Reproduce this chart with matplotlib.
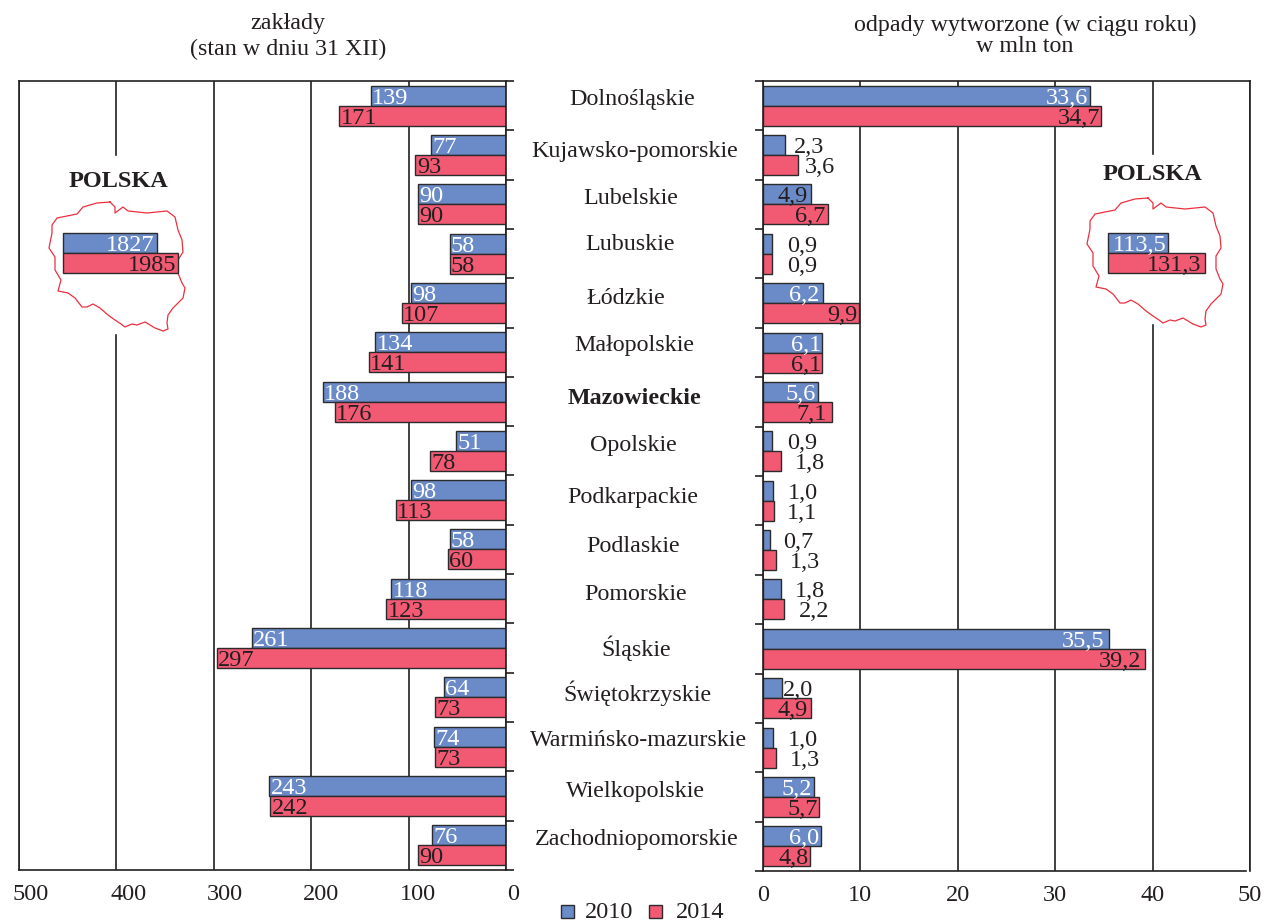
#!/usr/bin/env python3
"""Zakłady i odpady wytworzone wg województw, 2010 i 2014."""
import matplotlib

matplotlib.use("Agg")
import matplotlib.pyplot as plt
from matplotlib.lines import Line2D
from matplotlib.patches import Rectangle

plt.rcParams["font.family"] = ["Liberation Serif", "DejaVu Serif"]

W, H = 1266, 922

regions = [
    "Dolnośląskie", "Kujawsko-pomorskie", "Lubelskie", "Lubuskie", "Łódzkie", "Małopolskie",
    "Mazowieckie", "Opolskie", "Podkarpackie", "Podlaskie", "Pomorskie", "Śląskie",
    "Świętokrzyskie", "Warmińsko-mazurskie", "Wielkopolskie", "Zachodniopomorskie",
]
plants_2010 = [139, 77, 90, 58, 98, 134, 188, 51, 98, 58, 118, 261, 64, 74, 243, 76]
plants_2014 = [171, 93, 90, 58, 107, 141, 176, 78, 113, 60, 123, 297, 73, 73, 242, 90]
waste_2010 = [33.6, 2.3, 4.9, 0.9, 6.2, 6.1, 5.6, 0.9, 1.0, 0.7, 1.8, 35.5, 2.0, 1.0, 5.2, 6.0]
waste_2014 = [34.7, 3.6, 6.7, 0.9, 9.9, 6.1, 7.1, 1.8, 1.1, 1.3, 2.2, 39.2, 4.9, 1.3, 5.7, 4.8]
poland_plants = [1827, 1985]
poland_waste = [113.5, 131.3]
plants_ticks = [500, 400, 300, 200, 100, 0]
waste_ticks = [0, 10, 20, 30, 40, 50]

# hand placement from the printed figure, all in pixels
region_x = [632, 635, 631, 630, 626, 634, 635, 633, 633, 633, 636, 636, 637, 639, 635, 637]
region_y = [100, 152, 199, 244, 298, 346, 399, 445, 498, 546, 594, 648, 693, 740, 791, 839]
waste_off_2010 = [-2, 39, -3, 45, -4, -1, -2, 45, 45, 44, 44, -4, 31, 45, -2, -2]
waste_off_2014 = [-1, 37, -3, 45, -2, -1, -5, 44, 43, 44, 45, -3, -3, 44, -1, -1]
# outline of Poland, traced in pixels
outline = [
    (110, 202), (115, 207), (115, 213), (123, 207), (128, 211), (147, 213), (167, 211), (175, 217),
    (178, 230), (182, 240), (183, 252), (178, 260), (178, 273), (182, 283), (185, 288), (183, 298),
    (173, 308), (168, 315), (167, 323), (168, 329), (163, 331), (155, 328), (145, 322), (137, 325),
    (132, 324), (125, 327), (121, 324), (115, 320), (108, 315), (100, 308), (93, 304), (87, 307),
    (82, 307), (75, 298), (68, 293), (58, 291), (61, 280), (55, 270), (55, 257), (49, 248),
    (52, 233), (52, 225), (57, 218), (77, 214), (83, 207), (97, 203), (110, 202),
]

BLUE, RED = "#6b8bc8", "#f25a74"
EDGE, INK = "#2b2b2e", "#231f20"
FS_TEXT, FS_VALUE = 17.3, 17.5


def fx(x):
    return x / W


def fy(y):
    return 1 - y / H


def px_axes(x0, y0, x1, y1, **kw):
    return fig.add_axes([fx(x0), fy(y1), (x1 - x0) / W, (y1 - y0) / H], **kw)


def dec(v):
    return f"{v:.1f}".replace(".", ",")


def style(ax):
    for s in ax.spines.values():
        s.set_linewidth(1.2)
        s.set_color(INK)
    ax.set_ylim(16, 0)
    ax.set_yticks(range(17))
    ax.set_yticklabels([])
    ax.tick_params(axis="y", length=6, width=1.2, color=INK)
    ax.tick_params(axis="x", length=0, labelsize=FS_VALUE, labelcolor=INK, pad=10)
    ax.set_axisbelow(True)
    ax.grid(axis="x", color=INK, linewidth=1.2)


def bars(ax, a, b):
    ya = [i + 0.095 + 0.2025 for i in range(16)]
    yb = [i + 0.5 + 0.2025 for i in range(16)]
    ax.barh(ya, a, height=0.405, color=BLUE, edgecolor=EDGE, linewidth=1, zorder=2)
    ax.barh(yb, b, height=0.405, color=RED, edgecolor=EDGE, linewidth=1, zorder=2)
    return ya, yb


def poland(x0, y0, x1, y1, lo, hi, vals, labels, ends, dx, dy, title_x, title_y):
    fig.add_artist(Line2D([fx(x + dx) for x, y in outline], [fy(y + dy) for x, y in outline],
                          color="#ec2f3f", linewidth=0.9, zorder=3))
    ax = px_axes(x0, y0, x1, y1, zorder=4)
    ax.axis("off")
    ax.set_xlim(lo, hi)
    ax.set_ylim(2, 0)
    ax.barh([0.5, 1.5], [v - lo for v in vals], left=lo, height=1, color=[BLUE, RED],
            edgecolor=EDGE, linewidth=1, clip_on=False)
    for i, (lab, end, c) in enumerate(zip(labels, ends, ["white", INK])):
        fig.text(fx(end), fy(y0 + 10 + 20 * i), lab, ha="right", va="center_baseline", fontsize=FS_VALUE,
                 color=c, zorder=5)
    fig.text(fx(title_x), fy(title_y), "POLSKA", ha="center", va="center", fontsize=FS_VALUE,
             fontweight="bold", color=INK)


fig = plt.figure(figsize=(W / 100, H / 100), dpi=100)

# left panel: plants
ax1 = px_axes(19, 81, 506, 870)
style(ax1)
ya, yb = bars(ax1, plants_2010, plants_2014)
ax1.set_xlim(500, 0)
ax1.set_xticks(plants_ticks)
ax1.yaxis.tick_right()
for i in range(16):
    ax1.annotate(str(plants_2010[i]), (plants_2010[i], ya[i]), xytext=(1, 0), textcoords="offset points",
                 ha="left", va="center_baseline", fontsize=FS_VALUE, color="white", zorder=3)
    ax1.annotate(str(plants_2014[i]), (plants_2014[i], yb[i]), xytext=(1, 0), textcoords="offset points",
                 ha="left", va="center_baseline", fontsize=FS_VALUE, color=INK, zorder=3)
# the printed tick labels sit right of their gridlines
ax1.set_xticklabels([])
for t, off in zip(plants_ticks, [12, 12, 11, 10, 9, 7]):
    ax1.annotate(str(t), (t, 16), xytext=(off * 0.72, -10), textcoords="offset points", annotation_clip=False,
                 ha="center", va="top", fontsize=FS_VALUE, color=INK)
ax1.add_patch(Rectangle((fx(100), fy(333)), 32 / W, 177 / H, transform=fig.transFigure, color="white", zorder=1))

# right panel: waste
ax2 = px_axes(763, 81, 1250, 871)
style(ax2)
ya, yb = bars(ax2, waste_2010, waste_2014)
ax2.set_xlim(0, 50)
ax2.set_xticks(waste_ticks)
ax2.spines["bottom"].set_bounds(0, 49.6)
for i in range(16):
    c = "white" if waste_off_2010[i] < 0 and i != 2 else INK
    ax2.annotate(dec(waste_2010[i]), (waste_2010[i], ya[i]), xytext=(waste_off_2010[i] * 0.72, 0),
                 textcoords="offset points", ha="right", va="center_baseline", fontsize=FS_VALUE, color=c, zorder=3)
    ax2.annotate(dec(waste_2014[i]), (waste_2014[i], yb[i]), xytext=(waste_off_2014[i] * 0.72, 0),
                 textcoords="offset points", ha="right", va="center_baseline", fontsize=FS_VALUE, color=INK, zorder=3)
ax2.add_patch(Rectangle((fx(1137), fy(323)), 32 / W, 168 / H, transform=fig.transFigure, color="white", zorder=1))

# POLSKA insets, axes are cut so the bars fit inside the map
poland(63, 233, 178, 273, 1120, 1985, poland_plants, [str(v) for v in poland_plants], [154, 176], 0, 0, 118, 181)
poland(1108, 233, 1205, 273, 84.6, 131.3, poland_waste, [dec(v) for v in poland_waste], [1167, 1201], 1038, -4, 1152, 175)

for name, x, y in zip(regions, region_x, region_y):
    fig.text(fx(x), fy(y), name, ha="center", va="center", fontsize=FS_TEXT, color=INK,
             fontweight="bold" if name == "Mazowieckie" else "normal")

fig.text(fx(288), fy(37), "zakłady\n(stan w dniu 31 XII)", ha="center", va="center", fontsize=FS_TEXT,
         color=INK, linespacing=1.3)
fig.text(fx(1025), fy(36), "odpady wytworzone (w ciągu roku)\nw mln ton", ha="center", va="center",
         fontsize=FS_TEXT, color=INK, linespacing=1.05)

# legend
for x, c, lab, tx in [(561, BLUE, "2010", 585), (649, RED, "2014", 676)]:
    fig.add_artist(Rectangle((fx(x), fy(918)), 13 / W, 13 / H, transform=fig.transFigure,
                             facecolor=c, edgecolor=EDGE, linewidth=1))
    fig.text(fx(tx), fy(912), lab, ha="left", va="center", fontsize=FS_VALUE, color=INK)

fig.savefig("out.png", dpi=100)
plt.close()
